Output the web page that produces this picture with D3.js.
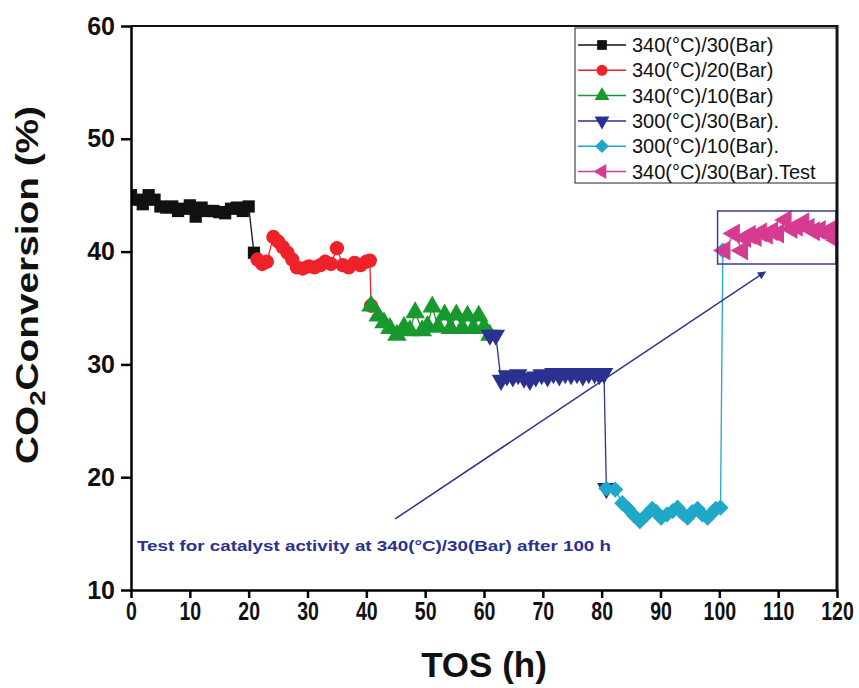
<!DOCTYPE html>
<html>
<head>
<meta charset="utf-8">
<script src="https://cdn.jsdelivr.net/npm/d3@7"></script>
<style>
  html, body { margin: 0; padding: 0; background: #fff; }
  svg { display: block; font-family: "Liberation Sans", Arial, sans-serif; }
</style>
</head>
<body>
<svg id="chart" width="859" height="688"></svg>
<script>
// ---- Data ----
const xTicks = [0, 10, 20, 30, 40, 50, 60, 70, 80, 90, 100, 110, 120];
const yTicks = [10, 20, 30, 40, 50, 60];

const blackX = [0, 1, 2, 3, 4, 5, 6, 7, 8, 9, 10, 11, 12, 13, 14, 15, 16, 17, 18, 19, 20, 20.9];
const blackY = [45.0, 44.6, 44.2, 45.0, 44.6, 44.0, 43.9, 44.0, 43.6, 43.8, 44.1, 43.1, 43.9, 43.6, 43.6, 43.5, 43.4, 43.8, 43.9, 43.6, 44.0, 39.9];

const redX = [21.5, 22.3, 23.1, 24.2, 25.0, 25.8, 26.6, 27.4, 28.2, 29.2, 30.2, 31.2, 32.2, 33.0, 34.0, 35.0, 36.0, 37.0, 38.0, 39.0, 40.0, 40.6, 40.8];
const redY = [39.3, 38.9, 39.1, 41.3, 40.9, 40.4, 39.9, 39.3, 38.6, 38.5, 38.7, 38.6, 38.8, 39.1, 38.9, 40.3, 38.8, 38.6, 39.0, 38.8, 39.1, 39.2, 35.2];

const greenX = [40.8, 42.0, 43.0, 44.0, 45.2, 46.4, 47.4, 48.3, 49.5, 50.4, 51.2, 52.2, 53.3, 54.3, 55.3, 56.3, 57.2, 58.2, 59.1, 60.0, 61.0];
const greenY = [35.2, 34.3, 33.7, 33.2, 32.6, 33.3, 33.0, 34.6, 33.0, 33.4, 35.1, 33.3, 34.4, 33.2, 34.4, 33.2, 34.3, 33.2, 34.3, 33.3, 32.6];

const blueX = [61.0, 62.0, 62.9, 63.9, 64.9, 65.8, 66.8, 67.8, 68.8, 69.8, 70.8, 71.8, 72.8, 73.8, 74.8, 75.8, 76.8, 77.8, 78.8, 79.6, 80.4, 80.8];
const blueY = [32.6, 32.6, 28.6, 29.0, 28.9, 29.1, 28.8, 28.6, 28.9, 29.1, 28.9, 29.2, 29.0, 29.2, 29.1, 29.2, 29.0, 29.2, 29.2, 29.1, 29.2, 19.0];

const cyanX = [80.8, 82.3, 83.5, 84.5, 85.5, 86.5, 87.5, 88.6, 89.3, 90.1, 91.1, 92.1, 92.9, 93.7, 94.6, 95.4, 96.3, 97.1, 98.0, 98.7, 99.4, 100.2, 100.6];
const cyanY = [19.0, 18.9, 17.7, 17.2, 16.6, 16.1, 16.6, 17.2, 16.9, 16.4, 16.7, 17.0, 17.3, 16.8, 16.4, 16.9, 17.2, 16.7, 16.4, 16.8, 17.2, 17.3, 40.1];

const pinkX = [100.9, 102.5, 103.9, 104.4, 105.2, 106.2, 107.1, 108.1, 109.0, 110.0, 111.3, 112.3, 113.2, 114.3, 115.2, 116.1, 117.1, 118.2, 119.1, 120.0];
const pinkY = [40.1, 41.6, 40.1, 41.2, 41.5, 41.3, 41.7, 41.5, 41.8, 41.6, 42.8, 42.0, 42.2, 42.6, 42.1, 41.8, 41.9, 41.7, 42.0, 41.0];

const seriesNames = ["340(°C)/30(Bar)", "340(°C)/20(Bar)", "340(°C)/10(Bar)", "300(°C)/30(Bar).", "300(°C)/10(Bar).", "340(°C)/30(Bar).Test"];
const annotationText = "Test for catalyst activity at 340(°C)/30(Bar) after 100 h";
// arrow endpoints in data units
const arrowFrom = [44.9, 16.3];
const arrowTo = [107.8, 38.2];
// highlight box in data units
const boxX = [99.7, 120];
const boxY = [43.6, 38.9];

// ---- Styling ----
const colors = ["#111111", "#ee2229", "#18992f", "#2b3190", "#1fa8c8", "#d63b92"];
const shapes = ["square", "circle", "triangle", "triangleDown", "diamond", "triangleLeft"];

const series = [
  {x: blackX, y: blackY}, {x: redX, y: redY}, {x: greenX, y: greenY},
  {x: blueX, y: blueY}, {x: cyanX, y: cyanY}, {x: pinkX, y: pinkY}
].map((s, i) => ({name: seriesNames[i], color: colors[i], shape: shapes[i],
  pts: s.x.map((v, j) => [v, s.y[j]])}));

const margin = {left: 131, top: 26, right: 22, bottom: 98};
const W = 859, H = 688;
const iw = W - margin.left - margin.right;   // 706
const ih = H - margin.top - margin.bottom;   // 564

const svg = d3.select("#chart");
const g = svg.append("g").attr("transform", `translate(${margin.left},${margin.top})`);

const x = d3.scaleLinear().domain([0, 120]).range([0, iw]);
const y = d3.scaleLinear().domain([10, 60]).range([ih, 0]);

function symbolPath(shape, size) {
  const gen = d3.symbol().size(size);
  if (shape === "square") return {d: gen.type(d3.symbolSquare)(), rot: 0};
  if (shape === "circle") return {d: gen.type(d3.symbolCircle)(), rot: 0};
  if (shape === "triangle") return {d: gen.type(d3.symbolTriangle)(), rot: 0};
  if (shape === "triangleDown") return {d: gen.type(d3.symbolTriangle)(), rot: 180};
  if (shape === "triangleLeft") return {d: gen.type(d3.symbolTriangle)(), rot: -90};
  if (shape === "diamond") return {d: gen.type(d3.symbolSquare)(), rot: 45};
}
const markerSize = {square: 150, circle: 160, triangle: 165, triangleDown: 150, diamond: 130, triangleLeft: 175};

// clip
svg.append("defs").append("clipPath").attr("id", "clip")
  .append("rect").attr("x", 0).attr("y", 0).attr("width", iw).attr("height", ih);

const plot = g.append("g").attr("clip-path", "url(#clip)");

const line = d3.line().x(d => x(d[0])).y(d => y(d[1]));

// lines
series.forEach(s => {
  plot.append("path").datum(s.pts)
    .attr("d", line).attr("fill", "none")
    .attr("stroke", s.color).attr("stroke-width", 1.3);
});
// markers
series.forEach(s => {
  const sp = symbolPath(s.shape, markerSize[s.shape]);
  plot.append("g").selectAll("path").data(s.pts).join("path")
    .attr("d", sp.d)
    .attr("transform", d => `translate(${x(d[0])},${y(d[1])}) rotate(${sp.rot})`)
    .attr("fill", s.color);
});

// highlight box
g.append("rect")
  .attr("x", x(boxX[0])).attr("y", y(boxY[0]))
  .attr("width", x(boxX[1]) - x(boxX[0]) - 1).attr("height", y(boxY[1]) - y(boxY[0]))
  .attr("fill", "none").attr("stroke", "#3b3b98").attr("stroke-width", 1.5);

// arrow
svg.select("defs").append("marker")
  .attr("id", "arrowhead").attr("viewBox", "0 0 10 10")
  .attr("refX", 9).attr("refY", 5).attr("markerWidth", 10).attr("markerHeight", 8)
  .attr("markerUnits", "userSpaceOnUse")
  .attr("orient", "auto")
  .append("path").attr("d", "M0,0 L10,5 L0,10 z").attr("fill", "#2b3190");
g.append("line")
  .attr("x1", x(arrowFrom[0])).attr("y1", y(arrowFrom[1]))
  .attr("x2", x(arrowTo[0])).attr("y2", y(arrowTo[1]))
  .attr("stroke", "#2b3190").attr("stroke-width", 1.5)
  .attr("marker-end", "url(#arrowhead)");

// annotation
g.append("text")
  .attr("x", 6).attr("y", 525)
  .attr("font-size", 15).attr("font-weight", "bold").attr("fill", "#2b3190")
  .attr("textLength", 474).attr("lengthAdjust", "spacingAndGlyphs")
  .text(annotationText);

// axes
const xAxis = g.append("g").attr("transform", `translate(0,${ih})`)
  .call(d3.axisBottom(x).tickValues(xTicks).tickSize(8).tickSizeOuter(0));
xAxis.select(".domain").attr("stroke-width", 2.5);
xAxis.selectAll(".tick line").attr("stroke-width", 2.5);
xAxis.selectAll(".tick text")
  .attr("dy", null).attr("y", 30)
  .attr("font-size", 25).attr("font-weight", "bold").attr("fill", "#111")
  .attr("font-family", "'Liberation Sans', Arial, sans-serif")
  .attr("transform", "scale(0.78,1)");

const yAxis = g.append("g")
  .call(d3.axisLeft(y).tickValues(yTicks).tickSize(10).tickSizeOuter(0).tickPadding(6));
yAxis.select(".domain").attr("stroke-width", 2.5);
yAxis.selectAll(".tick line").attr("stroke-width", 2.5);
yAxis.selectAll(".tick text")
  .attr("font-size", 25).attr("font-weight", "bold").attr("fill", "#111")
  .attr("font-family", "'Liberation Sans', Arial, sans-serif");

// top and right frame
g.append("line").attr("x1", 0).attr("x2", iw).attr("y1", 0).attr("y2", 0)
  .attr("stroke", "#111").attr("stroke-width", 2);
g.append("line").attr("x1", iw).attr("x2", iw).attr("y1", -1).attr("y2", ih)
  .attr("stroke", "#111").attr("stroke-width", 3);

// legend
const lg = g.append("g").attr("transform", `translate(${575 - margin.left},${28 - margin.top})`);
lg.append("rect").attr("x", 0).attr("y", 0).attr("width", 261).attr("height", 155)
  .attr("fill", "#fff").attr("stroke", "#222").attr("stroke-width", 1);
series.forEach((s, i) => {
  const cy = 17 + i * 25.3;
  const row = lg.append("g").attr("transform", `translate(0,${cy})`);
  row.append("line").attr("x1", 3).attr("x2", 51).attr("y1", 0).attr("y2", 0)
    .attr("stroke", s.color).attr("stroke-width", 1.5);
  const sp = symbolPath(s.shape, 95);
  row.append("path").attr("d", sp.d).attr("transform", `translate(27,0) rotate(${sp.rot})`)
    .attr("fill", s.color);
  row.append("text").attr("x", 57).attr("y", 7)
    .attr("font-size", 20).attr("fill", "#111").text(s.name);
});

// axis titles
svg.append("text")
  .attr("x", 484).attr("y", 677).attr("text-anchor", "middle")
  .attr("font-size", 35).attr("font-weight", "bold").attr("fill", "#111")
  .text("TOS (h)");

const yt = svg.append("text")
  .attr("transform", "translate(38,285) rotate(-90)")
  .attr("text-anchor", "middle")
  .attr("font-size", 31).attr("font-weight", "bold").attr("fill", "#111")
  .attr("textLength", 358).attr("lengthAdjust", "spacingAndGlyphs");
yt.append("tspan").text("CO");
yt.append("tspan").attr("font-size", 22).attr("dy", 7).text("2");
yt.append("tspan").attr("dy", -7).text("Conversion (%)");
</script>
</body>
</html>
